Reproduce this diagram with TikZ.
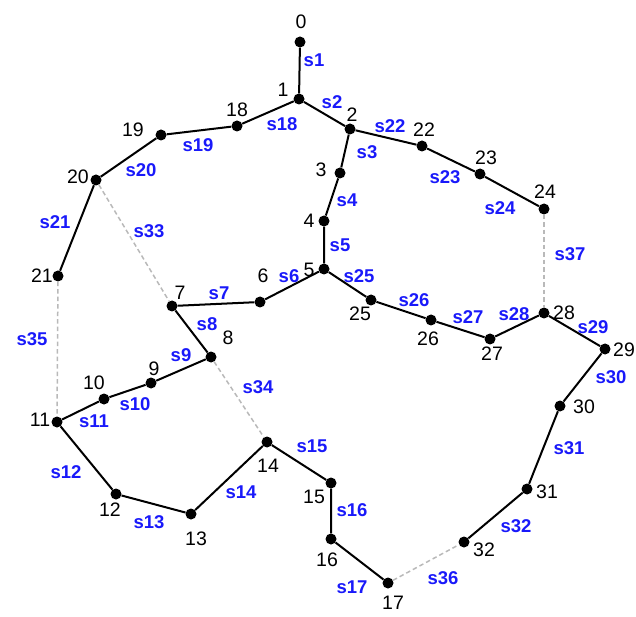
\documentclass[tikz,border=0pt]{standalone}
\usepackage{fontspec}
\setmainfont{Liberation Sans}
\definecolor{labblue}{RGB}{25,25,250}
\definecolor{dashgray}{RGB}{185,185,185}
\begin{document}
\begin{tikzpicture}[x=1pt,y=1pt,
  dot/.style={circle,fill=black,inner sep=0pt,minimum size=11pt},
  num/.style={inner sep=0pt,text=black,font=\fontsize{19.5}{19.5}\selectfont},
  lab/.style={inner sep=0pt,text=labblue,font=\fontsize{18.5}{18.5}\selectfont\bfseries},
  edge/.style={line width=2pt,black},
  dedge/.style={line width=1.5pt,dashgray,dash pattern=on 4.5pt off 3pt}]
\useasboundingbox (0,0) rectangle (636,616);
% vertices
\node[dot] (v0) at (300,574) {};
\node[dot] (v1) at (299,517) {};
\node[dot] (v2) at (350,487) {};
\node[dot] (v3) at (340,443) {};
\node[dot] (v4) at (324,395) {};
\node[dot] (v5) at (324,347) {};
\node[dot] (v6) at (260,314) {};
\node[dot] (v7) at (172,310) {};
\node[dot] (v8) at (211,259) {};
\node[dot] (v9) at (151,233) {};
\node[dot] (v10) at (104,217) {};
\node[dot] (v11) at (57,194) {};
\node[dot] (v12) at (116,122) {};
\node[dot] (v13) at (191,102) {};
\node[dot] (v14) at (267,174) {};
\node[dot] (v15) at (331,133) {};
\node[dot] (v16) at (331,77) {};
\node[dot] (v17) at (388,33) {};
\node[dot] (v18) at (237,490) {};
\node[dot] (v19) at (161,481) {};
\node[dot] (v20) at (96,436) {};
\node[dot] (v21) at (58,340) {};
\node[dot] (v22) at (422,470) {};
\node[dot] (v23) at (480,442) {};
\node[dot] (v24) at (544,407) {};
\node[dot] (v25) at (371,316) {};
\node[dot] (v26) at (431,296) {};
\node[dot] (v27) at (490,277) {};
\node[dot] (v28) at (544,303) {};
\node[dot] (v29) at (605,267) {};
\node[dot] (v30) at (560,210) {};
\node[dot] (v31) at (527,127) {};
\node[dot] (v32) at (464,74) {};
% dashed edges
\draw[dedge] (v20) -- (v7);
\draw[dedge] (v8) -- (v14);
\draw[dedge] (v21) -- (v11);
\draw[dedge] (v17) -- (v32);
\draw[dedge] (v24) -- (v28);
% solid edges
\draw[edge] (v0) -- (v1) -- (v2) -- (v3) -- (v4) -- (v5) -- (v6) -- (v7) -- (v8) -- (v9) -- (v10) -- (v11) -- (v12) -- (v13) -- (v14) -- (v15) -- (v16) -- (v17);
\draw[edge] (v1) -- (v18) -- (v19) -- (v20) -- (v21);
\draw[edge] (v2) -- (v22) -- (v23) -- (v24);
\draw[edge] (v5) -- (v25) -- (v26) -- (v27) -- (v28) -- (v29) -- (v30) -- (v31) -- (v32);
% vertex numbers
\node[num] (n0) at (301,594) {0};
\node[num] (n1) at (283,526) {1};
\node[num] (n2) at (352,501) {2};
\node[num] (n3) at (321,446) {3};
\node[num] (n4) at (309,395) {4};
\node[num] (n5) at (309,346) {5};
\node[num] (n6) at (263,340) {6};
\node[num] (n7) at (180,323) {7};
\node[num] (n8) at (228,278) {8};
\node[num] (n9) at (154,247) {9};
\node[num] (n10) at (94,233) {10};
\node[num] (n11) at (40,196) {11};
\node[num] (n12) at (110,106) {12};
\node[num] (n13) at (196,77) {13};
\node[num] (n14) at (268,150) {14};
\node[num] (n15) at (314,119) {15};
\node[num] (n16) at (327,56) {16};
\node[num] (n17) at (393,13) {17};
\node[num] (n18) at (237,506) {18};
\node[num] (n19) at (133,486) {19};
\node[num] (n20) at (78,439) {20};
\node[num] (n21) at (42,340) {21};
\node[num] (n22) at (424,486) {22};
\node[num] (n23) at (486,458) {23};
\node[num] (n24) at (545,424) {24};
\node[num] (n25) at (360,302) {25};
\node[num] (n26) at (428,277) {26};
\node[num] (n27) at (492,262) {27};
\node[num] (n28) at (564,303) {28};
\node[num] (n29) at (624,266) {29};
\node[num] (n30) at (584,209) {30};
\node[num] (n31) at (547,124) {31};
\node[num] (n32) at (484,66) {32};
% edge labels
\node[lab] (s1) at (314,556) {s1};
\node[lab] (s2) at (332,514) {s2};
\node[lab] (s3) at (367,464) {s3};
\node[lab] (s4) at (347,416) {s4};
\node[lab] (s5) at (340,371) {s5};
\node[lab] (s6) at (289,340) {s6};
\node[lab] (s7) at (219,323) {s7};
\node[lab] (s8) at (207,292) {s8};
\node[lab] (s9) at (181,261) {s9};
\node[lab] (s10) at (135,212) {s10};
\node[lab] (s11) at (94,195) {s11};
\node[lab] (s12) at (66,144) {s12};
\node[lab] (s13) at (149,94) {s13};
\node[lab] (s14) at (241,124) {s14};
\node[lab] (s15) at (312,170) {s15};
\node[lab] (s16) at (352,106) {s16};
\node[lab] (s17) at (352,29) {s17};
\node[lab] (s18) at (282,492) {s18};
\node[lab] (s19) at (198,471) {s19};
\node[lab] (s20) at (141,446) {s20};
\node[lab] (s21) at (55,394) {s21};
\node[lab] (s22) at (390,490) {s22};
\node[lab] (s23) at (445,439) {s23};
\node[lab] (s24) at (500,408) {s24};
\node[lab] (s25) at (359,340) {s25};
\node[lab] (s26) at (414,316) {s26};
\node[lab] (s27) at (468,299) {s27};
\node[lab] (s28) at (514,302) {s28};
\node[lab] (s29) at (593,289) {s29};
\node[lab] (s30) at (611,239) {s30};
\node[lab] (s31) at (569,168) {s31};
\node[lab] (s32) at (516,90) {s32};
\node[lab] (s33) at (149,385) {s33};
\node[lab] (s34) at (258,229) {s34};
\node[lab] (s35) at (32,277) {s35};
\node[lab] (s36) at (443,38) {s36};
\node[lab] (s37) at (570,362) {s37};
\end{tikzpicture}
\end{document}
